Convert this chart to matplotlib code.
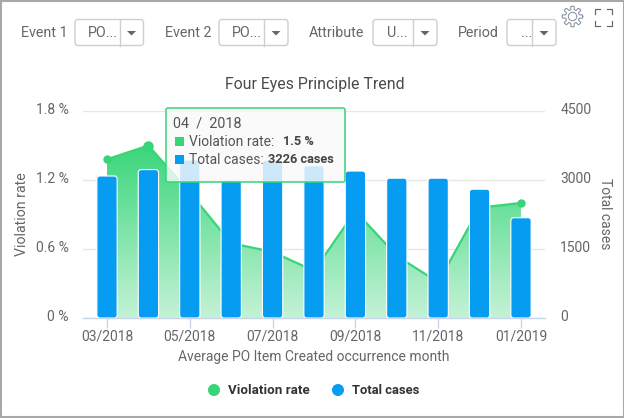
import numpy as np
import matplotlib
matplotlib.use("Agg")
import matplotlib.pyplot as plt
from matplotlib.patches import FancyBboxPatch, Rectangle, Circle, Polygon
from matplotlib.transforms import ScaledTranslation

plt.rcParams['font.family'] = ['Roboto', 'DejaVu Sans']

# data
months = ['03/2018', '04/2018', '05/2018', '06/2018', '07/2018', '08/2018',
          '09/2018', '10/2018', '11/2018', '12/2018', '01/2019']
violation_rate = [1.38, 1.5, 1.09, 0.65, 0.575, 0.41, 0.93, 0.54, 0.31, 0.96, 1.0]
total_cases = [3087, 3226, 3435, 3000, 3430, 3310, 3195, 3040, 3040, 2800, 2180]
rate_ticks = [0, 0.6, 1.2, 1.8]
rate_tick_labels = ['0 %', '0.6 %', '1.2 %', '1.8 %']
case_ticks = [0, 1500, 3000, 4500]
filters = [('Event 1', 'PO...'), ('Event 2', 'PO...'), ('Attribute', 'U...'), ('Period', '...')]

GREEN = '#36d576'
BLUE = '#069cf2'
TEXT = '#666666'
W, H = 624, 418

fig = plt.figure(figsize=(W / 100, H / 100), dpi=100)


def px_rect(x0, y0, x1, y1):
    return [x0 / W, 1 - y1 / H, (x1 - x0) / W, (y1 - y0) / H]


# chart axes, plot area in pixels 83..545 / 111..318
ax = fig.add_axes(px_rect(83, 111, 545, 318))
ax2 = ax.twinx()
x = np.arange(len(months))
ax.set_xlim(-0.58, 10.58)
ax.set_ylim(0, 1.8)
ax2.set_ylim(0, 4500)

for s in ax.spines.values():
    s.set_visible(False)
for s in ax2.spines.values():
    s.set_visible(False)
ax.spines['bottom'].set_visible(True)
ax.spines['bottom'].set_color('#c9d5ea')
ax.spines['bottom'].set_linewidth(1)

ax.set_yticks(rate_ticks)
ax.set_yticklabels(rate_tick_labels)
ax.tick_params(axis='y', length=0, pad=10.5, labelsize=10, labelcolor=TEXT)
ax.set_xticks(x[::2])
ax.set_xticklabels(months[::2])
ax.tick_params(axis='x', length=7.2, width=1, color='#c9d5ea', pad=1, labelsize=10, labelcolor=TEXT)
ax.grid(axis='y', color='#e6e6e6', linewidth=1)
ax.set_axisbelow(True)

ax2.set_yticks(case_ticks)
ax2.set_yticklabels([str(c) for c in case_ticks])
ax2.tick_params(axis='y', length=0, pad=11, labelsize=10, labelcolor=TEXT)

# y tick labels sit a little above their gridlines
shift = ScaledTranslation(0, 2 / 72, fig.dpi_scale_trans)
for lab in ax.get_yticklabels() + ax2.get_yticklabels():
    lab.set_transform(lab.get_transform() + shift)

# area with vertical gradient
area = ax.fill_between(x, violation_rate, 0, color='none', linewidth=0)
grad = np.linspace(0, 1, 256).reshape(-1, 1)
top = np.array(matplotlib.colors.to_rgb('#3ad67b'))
bottom = np.array(matplotlib.colors.to_rgb('#c4f2d6'))
img = top + (bottom - top) * grad[:, :, None].reshape(-1, 1, 1)
img = np.repeat(img.reshape(256, 1, 3), 2, axis=1)
im = ax.imshow(img, extent=[x[0], x[-1], 0, 1.5], aspect='auto', zorder=1.5)
im.set_clip_path(area.get_paths()[0], transform=ax.transData)
ax.set_xlim(-0.58, 10.58)
ax.set_ylim(0, 1.8)

ax.plot(x, violation_rate, color=GREEN, linewidth=1.6, zorder=2)
ax.plot(x, violation_rate, 'o', color=GREEN, markersize=5, zorder=2)
ax.plot(x[1], violation_rate[1], 'o', color=GREEN, markersize=6.5, zorder=2)

# rounded bars
ax2.set_zorder(ax.get_zorder() + 1)
ax2.patch.set_visible(False)
bar_w = 0.49
aspect = (4500 / 207) / (11.16 / 462)
for xi, c in zip(x, total_cases):
    ax2.add_patch(FancyBboxPatch((xi - bar_w / 2, 0), bar_w, c,
                                 boxstyle='round,pad=0,rounding_size=0.07',
                                 mutation_aspect=aspect,
                                 facecolor=BLUE, edgecolor='white', linewidth=0.8, zorder=3))

# everything else in pixel coordinates
ov = fig.add_axes([0, 0, 1, 1], zorder=10)
ov.set_xlim(0, W)
ov.set_ylim(H, 0)
ov.axis('off')
ov.patch.set_visible(False)

ov.add_patch(Rectangle((0.5, 0.5), W - 1, H - 1.5, fill=False, edgecolor='#a8a8a8', linewidth=1.5))

ov.text(315, 85, 'Four Eyes Principle Trend', ha='center', va='center', fontsize=11.4, color='#4a4a4a')
ov.text(22, 214, 'Violation rate', rotation=90, ha='center', va='center', fontsize=10.2, color=TEXT)
ov.text(605, 214, 'Total cases', rotation=-90, ha='center', va='center', fontsize=10, color=TEXT)
ov.text(314, 357, 'Average PO Item Created occurrence month', ha='center', va='center', fontsize=10, color=TEXT)

# legend
ov.add_patch(Circle((214, 390), 6, facecolor=GREEN, edgecolor='none'))
ov.text(228, 390.5, 'Violation rate', ha='left', va='center', fontsize=9.6, fontweight='bold', color='#333333')
ov.add_patch(Circle((338, 390), 6, facecolor=BLUE, edgecolor='none'))
ov.text(352, 390.5, 'Total cases', ha='left', va='center', fontsize=9.4, fontweight='bold', color='#333333')

# filter dropdowns
label_x = [21, 165, 309, 458]
boxes = [(75, 119.5, 143.5), (219, 264, 288), (373, 413, 437), (507, 532, 556)]
value_x = [88, 232, 387, 521]
for (label, value), lx, (b0, bs, b1), vx in zip(filters, label_x, boxes, value_x):
    ov.text(lx, 33, label, ha='left', va='center', fontsize=10.3, color=TEXT)
    ov.add_patch(FancyBboxPatch((b0, 19.5), b1 - b0, 26, boxstyle='round,pad=0,rounding_size=3',
                                facecolor='white', edgecolor='#cfcfcf', linewidth=1))
    ov.plot([bs, bs], [19.5, 45.5], color='#cfcfcf', linewidth=1)
    ov.text(vx, 33, value, ha='left', va='center', fontsize=10.3, color=TEXT)
    cx = (bs + b1) / 2
    ov.add_patch(Polygon([(cx - 4.5, 31), (cx + 4.5, 31), (cx, 35.5)], facecolor='#666666', edgecolor='none'))

# gear icon
t = np.linspace(0, 2 * np.pi, 161)
r = 8.6 + 1.7 * np.clip(3 * np.cos(8 * t), -1, 1)
ov.plot(572.5 + r * np.cos(t), 16.5 + r * np.sin(t), color='#7d8a9a', linewidth=0.7)
ov.add_patch(Circle((572.5, 16.5), 4.2, fill=False, edgecolor='#7d8a9a', linewidth=0.7))

# fullscreen icon
for cx, sx in ((595, 1), (612, -1)):
    for cy, sy in ((8.5, 1), (25.5, -1)):
        ov.plot([cx + 5 * sx, cx, cx], [cy, cy, cy + 5 * sy], color='#6a6a6a', linewidth=0.9, solid_joinstyle='miter')

# tooltip
ov.add_patch(FancyBboxPatch((166, 108), 179, 74, boxstyle='round,pad=0,rounding_size=2',
                            facecolor=(0.98, 0.98, 0.98, 0.82), edgecolor=GREEN, linewidth=1.1))
ov.text(173, 123, '04  /  2018', ha='left', va='center', fontsize=10.4, color='#555555')
ov.add_patch(Rectangle((175, 137), 8.5, 8.5, facecolor=GREEN, edgecolor='none'))
ov.text(189, 141.5, 'Violation rate: ', ha='left', va='center', fontsize=10, color='#555555')
ov.text(283, 141.5, '1.5 %', ha='left', va='center', fontsize=9.2, fontweight='bold', color='#444444')
ov.add_patch(Rectangle((175, 155), 8.5, 8.5, facecolor=BLUE, edgecolor='none'))
ov.text(189, 159.5, 'Total cases: ', ha='left', va='center', fontsize=10, color='#555555')
ov.text(268, 159.5, '3226 cases', ha='left', va='center', fontsize=9.2, fontweight='bold', color='#444444')

fig.savefig('out.png', dpi=100)
